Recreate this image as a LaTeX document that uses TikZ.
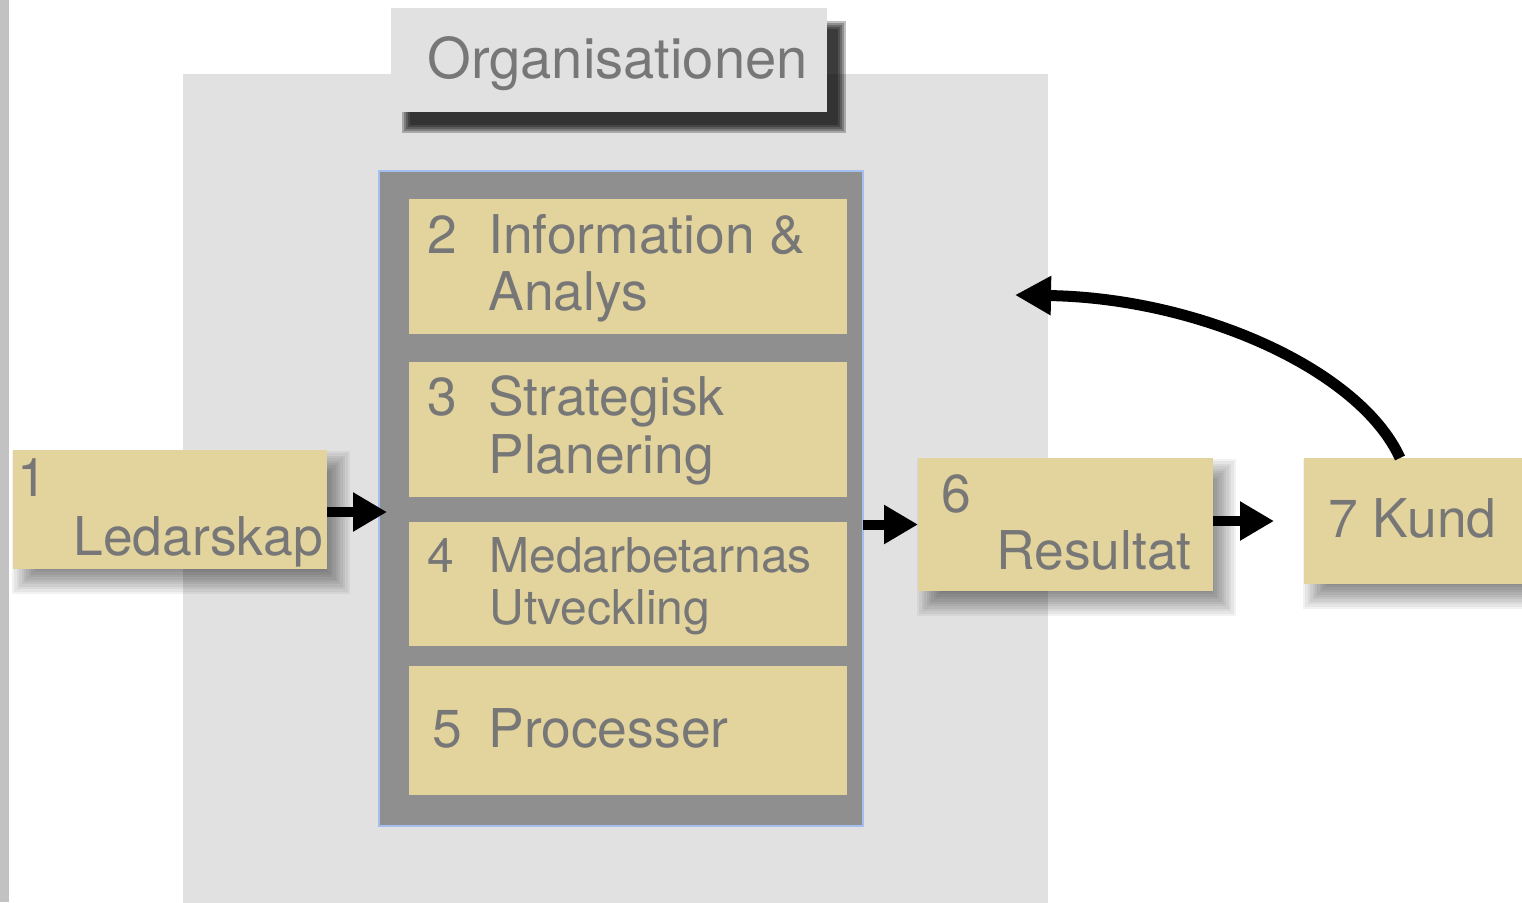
\documentclass[tikz,border=0pt]{standalone}
\usepackage{fontspec}
\setmainfont{TeX Gyre Heros}
\usetikzlibrary{arrows.meta}
\definecolor{boxyel}{HTML}{E3D49D}
\definecolor{txtgray}{HTML}{777777}
\definecolor{orgbg}{HTML}{E1E1E1}
\definecolor{panelgray}{HTML}{8F8F8F}
\definecolor{paneledge}{HTML}{A4BEF0}
\definecolor{stripgray}{HTML}{C2C2C2}
\pgfdeclarelayer{bglayer}
\pgfdeclarelayer{shadowlayer}
\pgfsetlayers{bglayer,shadowlayer,main}
\newcommand{\softshadow}[1]{%
  \foreach \i in {0,...,10}{%
    \fill[black, opacity=0.05]
      ([xshift={5.5pt-6pt+\i*1.2pt}, yshift={-6.5pt+6pt-\i*1.2pt}]#1.north west)
      rectangle ([xshift={5.5pt+6pt-\i*1.2pt}, yshift={-6.5pt-6pt+\i*1.2pt}]#1.south east);
  }}
\newcommand{\hardshadow}[1]{%
  \foreach \i in {0,...,4}{%
    \fill[black, opacity=0.25]
      ([xshift={7.5pt-2pt+\i*1pt}, yshift={-8.5pt+2pt-\i*1pt}]#1.north west)
      rectangle ([xshift={7.5pt+2pt-\i*1pt}, yshift={-8.5pt-2pt+\i*1pt}]#1.south east);
  }}
\begin{document}
\begin{tikzpicture}[x=0.5pt,y=-0.5pt,
  ybox/.style={rectangle, fill=boxyel, draw=none, inner sep=0pt, outer sep=0pt, anchor=north west},
  lbl/.style={anchor=base west, inner sep=0pt, text=txtgray, font=\fontsize{26.7pt}{28.5pt}\selectfont},
  lblsmall/.style={lbl, font=\fontsize{24pt}{26pt}\selectfont},
  arr/.style={line width=5pt, -{Triangle[length=17pt,width=18.5pt]}},
]
\useasboundingbox (0,0) rectangle (1522,902);
\begin{pgfonlayer}{bglayer}
\fill[white] (0,0) rectangle (1522,902);
\fill[stripgray] (0,0) rectangle (9,902);
\node[rectangle, fill=orgbg, inner sep=0pt, outer sep=0pt, anchor=north west,
      minimum width=432.5pt, minimum height=416pt] (orgarea) at (183,74) {};
\end{pgfonlayer}
% title box
\node[rectangle, fill=orgbg, inner sep=0pt, outer sep=0pt, anchor=north west,
      minimum width=218pt, minimum height=52pt] (orgtitle) at (391,8) {};
\begin{pgfonlayer}{shadowlayer}\hardshadow{orgtitle}\end{pgfonlayer}
\node[lbl, font=\fontsize{28.1pt}{30pt}\selectfont] (orgtxt) at (427,78) {Organisationen};
% panel
\node[rectangle, fill=panelgray, draw=paneledge, line width=0.75pt, inner sep=0pt, outer sep=0pt, anchor=north west,
      minimum width=242pt, minimum height=327.5pt] (panel) at (379,171) {};
\node[ybox, minimum width=219pt, minimum height=67.5pt] (box2) at (409,199) {};
\node[ybox, minimum width=219pt, minimum height=67.5pt] (box3) at (409,362) {};
\node[ybox, minimum width=219pt, minimum height=62pt] (box4) at (409,522) {};
\node[ybox, minimum width=219pt, minimum height=64.5pt] (box5) at (409,666) {};
% outer boxes
\node[ybox, minimum width=157pt, minimum height=59.5pt] (box1) at (13,450) {};
\node[ybox, minimum width=147.5pt, minimum height=66.5pt] (box6) at (918,458) {};
\node[ybox, minimum width=110pt, minimum height=63pt] (box7) at (1304,458) {};
\begin{pgfonlayer}{shadowlayer}
\softshadow{box1}
\softshadow{box6}
\softshadow{box7}
\end{pgfonlayer}
% arrows
\draw[arr, shorten >=-4pt] ([yshift=-1.25pt]box1.east) -- ([yshift=-1.25pt]box1.east -| panel.west);
\draw[arr, shorten >=15pt] (box6.east |- box7.west) -- (box7.west);
\draw[arr] (panel.east |- box6.west) -- (box6.west);
\coordinate (kstart) at ([xshift=-7pt]box7.north);
\coordinate (ktip) at (1015,295);
\draw[line width=5.5pt, -{Triangle[length=18pt,width=18.5pt]}] (kstart) .. controls (1360,370) and (1200,298) .. (ktip);
% labels
\node[lbl] (t2n) at (427,253) {2};
\node[lbl] (t2a) at (488,253) {Information \&};
\node[lbl] (t2b) at (488,310) {Analys};
\node[lbl] (t3n) at (427,415) {3};
\node[lbl] (t3a) at (488,415) {Strategisk};
\node[lbl] (t3b) at (488,473) {Planering};
\node[lblsmall] (t4n) at (427,572) {4};
\node[lblsmall] (t4a) at (489,572) {Medarbetarnas};
\node[lblsmall] (t4b) at (489,624) {Utveckling};
\node[lbl] (t5n) at (432,747) {5};
\node[lbl] (t5a) at (488,747) {Processer};
\node[lbl] (t1n) at (17,496) {1};
\node[lbl] (t1a) at (73,555) {Ledarskap};
\node[lbl] (t6n) at (941,512) {6};
\node[lbl] (t6a) at (996,569) {Resultat};
\node[lbl] (t7) at (1328,537) {7 Kund};
\end{tikzpicture}
\end{document}
